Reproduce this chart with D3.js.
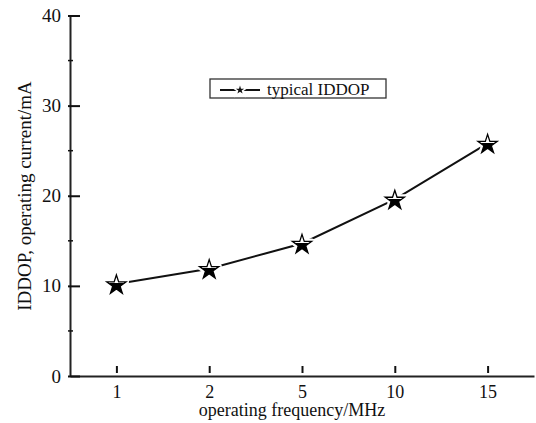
<!DOCTYPE html>
<html>
<head>
<meta charset="utf-8">
<script src="https://cdn.jsdelivr.net/npm/d3@7"></script>
<style>
  body { margin: 0; background: #fff; }
</style>
</head>
<body>
<script>
// data
const frequencies = ['1', '2', '5', '10', '15'];
const currents = [10.2, 11.9, 14.7, 19.6, 25.8];
const yTicks = [0, 10, 20, 30, 40];
const yMinorTicks = [5, 15, 25, 35];
const seriesName = 'typical IDDOP';

const serif = "'Liberation Serif', 'Times New Roman', 'DejaVu Serif', serif";

const svgWidth = 536;
const svgHeight = 423;
const margin = { top: 15.5, right: 0, bottom: 47, left: 70 };

const svg = d3.select('body').append('svg')
  .attr('width', svgWidth)
  .attr('height', svgHeight)
  .style('font-family', serif);

// half-white / half-black star fill
const grad = svg.append('defs').append('linearGradient')
  .attr('id', 'halfStar')
  .attr('x1', 0).attr('y1', 0).attr('x2', 0).attr('y2', 1);
grad.append('stop').attr('offset', '0.46').attr('stop-color', '#fff');
grad.append('stop').attr('offset', '0.46').attr('stop-color', '#000');

const xScale = d3.scalePoint()
  .domain(frequencies)
  .range([margin.left, svgWidth - 2])
  .padding(0.5);

const yScale = d3.scaleLinear()
  .domain([0, 40])
  .range([svgHeight - margin.bottom, margin.top]);

const y0 = yScale(0);

// x axis
const xAxis = svg.append('g')
  .attr('transform', `translate(0, ${y0})`)
  .call(d3.axisBottom(xScale).tickSizeInner(-9).tickSizeOuter(0).tickPadding(9));
xAxis.attr('font-family', null).attr('font-size', null);
xAxis.select('.domain').attr('stroke', '#222').attr('stroke-width', 2);
xAxis.selectAll('.tick line').attr('stroke', '#111').attr('stroke-width', 2)
  .attr('y1', -3).attr('y2', -10);
xAxis.selectAll('text')
  .attr('fill', '#111')
  .style('font-family', serif)
  .style('font-size', '18px');

// y axis
const yAxis = svg.append('g')
  .attr('transform', `translate(${margin.left}, 0)`)
  .call(d3.axisLeft(yScale).tickValues(yTicks).tickSizeInner(-10).tickSizeOuter(0).tickPadding(9));
yAxis.attr('font-family', null).attr('font-size', null);
yAxis.select('.domain').attr('stroke', '#222').attr('stroke-width', 2);
yAxis.selectAll('.tick line').attr('stroke', '#111').attr('stroke-width', 2).attr('x1', -2);
yAxis.selectAll('text')
  .attr('fill', '#111')
  .style('font-family', serif)
  .style('font-size', '19px');

// minor ticks
svg.append('g').selectAll('line')
  .data(yMinorTicks)
  .enter().append('line')
  .attr('x1', margin.left - 2)
  .attr('x2', margin.left + 3)
  .attr('y1', d => yScale(d))
  .attr('y2', d => yScale(d))
  .attr('stroke', '#111')
  .attr('stroke-width', 1.5);

// axis titles
svg.append('text')
  .attr('x', 292)
  .attr('y', 416)
  .attr('text-anchor', 'middle')
  .attr('fill', '#111')
  .style('font-family', serif)
  .style('font-size', '18px')
  .text('operating frequency/MHz');

svg.append('text')
  .attr('transform', 'translate(31, 196) rotate(-90)')
  .attr('text-anchor', 'middle')
  .attr('fill', '#111')
  .style('font-family', serif)
  .style('font-size', '19px')
  .text('IDDOP, operating current/mA');

// series line
const line = d3.line()
  .x((d, i) => xScale(frequencies[i]))
  .y(d => yScale(d));

svg.append('path')
  .datum(currents)
  .attr('d', line)
  .attr('fill', 'none')
  .attr('stroke', '#111')
  .attr('stroke-width', 2);

// star markers
const star = d3.symbol().type(d3.symbolStar).size(115);

const markers = svg.append('g').selectAll('g')
  .data(currents)
  .enter().append('g')
  .attr('transform', (d, i) => `translate(${xScale(frequencies[i])}, ${yScale(d) + 1})`);

markers.append('path')
  .attr('d', star)
  .attr('fill', '#fff')
  .attr('stroke', '#fff')
  .attr('stroke-width', 6)
  .attr('stroke-linejoin', 'round');

markers.append('path')
  .attr('d', star)
  .attr('fill', 'url(#halfStar)')
  .attr('stroke', '#000')
  .attr('stroke-width', 1.3);

// legend
const legend = svg.append('g').attr('transform', 'translate(210, 79)');

legend.append('rect')
  .attr('width', 176)
  .attr('height', 19)
  .attr('fill', '#fff')
  .attr('stroke', '#333')
  .attr('stroke-width', 1.3);

legend.append('line')
  .attr('x1', 10).attr('x2', 50)
  .attr('y1', 11).attr('y2', 11)
  .attr('stroke', '#111')
  .attr('stroke-width', 2);

legend.append('path')
  .attr('transform', 'translate(30, 11)')
  .attr('d', d3.symbol().type(d3.symbolStar).size(22))
  .attr('fill', '#fff')
  .attr('stroke', '#fff')
  .attr('stroke-width', 3);

legend.append('path')
  .attr('transform', 'translate(30, 11)')
  .attr('d', d3.symbol().type(d3.symbolStar).size(22))
  .attr('fill', '#111');

legend.append('text')
  .attr('x', 57)
  .attr('y', 16)
  .attr('fill', '#111')
  .style('font-family', serif)
  .style('font-size', '17px')
  .text(seriesName);
</script>
</body>
</html>
